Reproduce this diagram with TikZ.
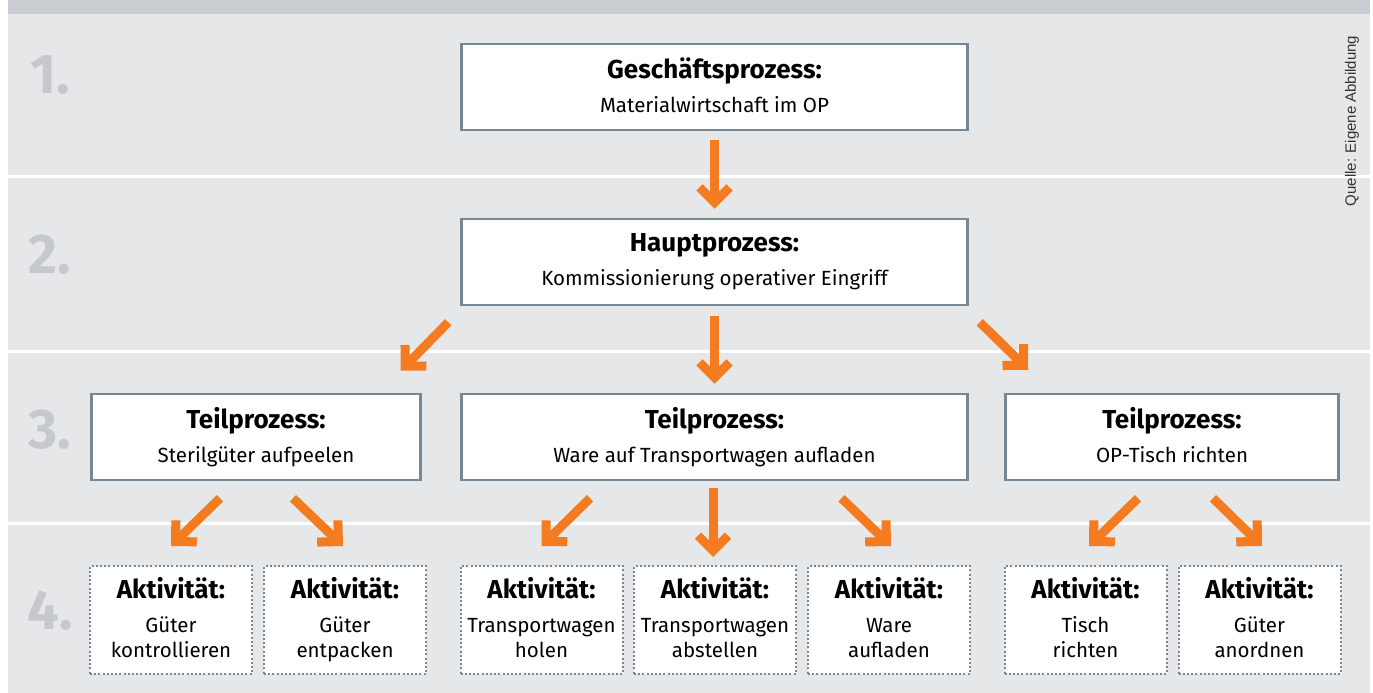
\documentclass[tikz,border=0pt]{standalone}
\usepackage{fontspec}
\setmainfont{Fira Sans}
\newfontfamily\quellfont{Liberation Sans}
\usetikzlibrary{arrows.meta}

\definecolor{balken}{HTML}{C9CDD1}
\definecolor{band}{HTML}{E6E7E9}
\definecolor{rahmen}{HTML}{768895}
\definecolor{pfeilorange}{HTML}{F47B20}
\definecolor{ziffer}{HTML}{C5C9CE}

\newcommand{\kopf}[1]{{\bfseries\fontsize{26}{25}\selectfont #1}}
\newcommand{\inhalt}[2]{\kopf{#1}\\[9pt]#2\vphantom{p}}

\tikzset{
  prozess/.style={draw=rahmen, line width=2.5pt, fill=white, minimum height=86pt,
    align=center, inner sep=0pt, font=\fontsize{20.5}{25}\selectfont},
  aktiv/.style={draw=rahmen, line width=2pt, dash pattern=on 2pt off 2.2pt, fill=white,
    minimum width=162pt, minimum height=108pt, align=center, inner sep=0pt,
    font=\fontsize{20.5}{25}\selectfont},
  pfeil/.style={pfeilorange, line width=9pt, -{Straight Barb[sharp,length=15pt,width=30pt]}},
  ebene/.style={text=ziffer, font=\bfseries\fontsize{56}{56}\selectfont}
}

\begin{document}
\begin{tikzpicture}[x=1pt, y=-1pt]
% Hintergrund
\fill[white] (0,0) rectangle (1373,693);
\fill[balken] (8,0) rectangle (1370,14);
\fill[band] (8,14) rectangle (1370,174.5);
\fill[band] (8,177.5) rectangle (1370,350);
\fill[band] (8,353) rectangle (1370,521.5);
\fill[band] (8,524.5) rectangle (1370,693);

\node[ebene] (E1) at (50,75)  {1.};
\node[ebene] (E2) at (50,255) {2.};
\node[ebene] (E3) at (50,430) {3.};
\node[ebene] (E4) at (50,611) {4.};

\node[prozess, minimum width=506pt] (G)  at (714.5,87)  {\inhalt{Geschäftsprozess:}{Materialwirtschaft im OP}};
\node[prozess, minimum width=506pt] (H)  at (714.5,262) {\inhalt{Hauptprozess:}{Kommissionierung operativer Eingriff}};
\node[prozess, minimum width=329pt] (T1) at (256,437)   {\inhalt{Teilprozess:}{Sterilgüter aufpeelen}};
\node[prozess, minimum width=506pt] (T2) at (714.5,437) {\inhalt{Teilprozess:}{Ware auf Transportwagen aufladen}};
\node[prozess, minimum width=333pt] (T3) at (1172,437)  {\inhalt{Teilprozess:}{OP-Tisch richten}};

\node[aktiv] (A1) at (171,620)    {\inhalt{Aktivität:}{Güter\\kontrollieren}};
\node[aktiv] (A2) at (345,620)    {\inhalt{Aktivität:}{Güter\\entpacken}};
\node[aktiv] (A3) at (541.5,620)  {\inhalt{Aktivität:}{Transportwagen\\holen}};
\node[aktiv] (A4) at (715,620)    {\inhalt{Aktivität:}{Transportwagen\\abstellen}};
\node[aktiv] (A5) at (889,620)    {\inhalt{Aktivität:}{Ware\\aufladen}};
\node[aktiv] (A6) at (1085.5,620) {\inhalt{Aktivität:}{Tisch\\richten}};
\node[aktiv] (A7) at (1259.5,620) {\inhalt{Aktivität:}{Güter\\anordnen}};

\node[rotate=90, text=black!80, font=\quellfont\fontsize{15}{15}\selectfont] (Q) at (1352,121) {Quelle: Eigene Abbildung};

\path[pfeil]
  ([shift={(0,9)}]G.south)      edge ([shift={(0,-9)}]H.north)
  ([shift={(0,10)}]H.south)     edge ([shift={(0,-9)}]T2.north)
  ([shift={(-12,16)}]H.south west) edge ([shift={(-21,-22)}]T1.north east)
  ([shift={(11,16)}]H.south east)  edge ([shift={(24,-23)}]T3.north west)
  ([shift={(-36,17)}]T1.south)  edge ([shift={(0,-19)}]A1.north)
  ([shift={(37,17)}]T1.south)   edge ([shift={(-2,-19)}]A2.north)
  ([shift={(-124.5,17)}]T2.south) edge ([shift={(0,-19)}]A3.north)
  ([shift={(-1.5,7)}]T2.south)  edge ([shift={(-2,-8)}]A4.north)
  ([shift={(127,17)}]T2.south)  edge ([shift={(2,-19)}]A5.north)
  ([shift={(-34,17)}]T3.south)  edge ([shift={(3.5,-19)}]A6.north)
  ([shift={(41,17)}]T3.south)   edge ([shift={(2.5,-19)}]A7.north);
\end{tikzpicture}
\end{document}
